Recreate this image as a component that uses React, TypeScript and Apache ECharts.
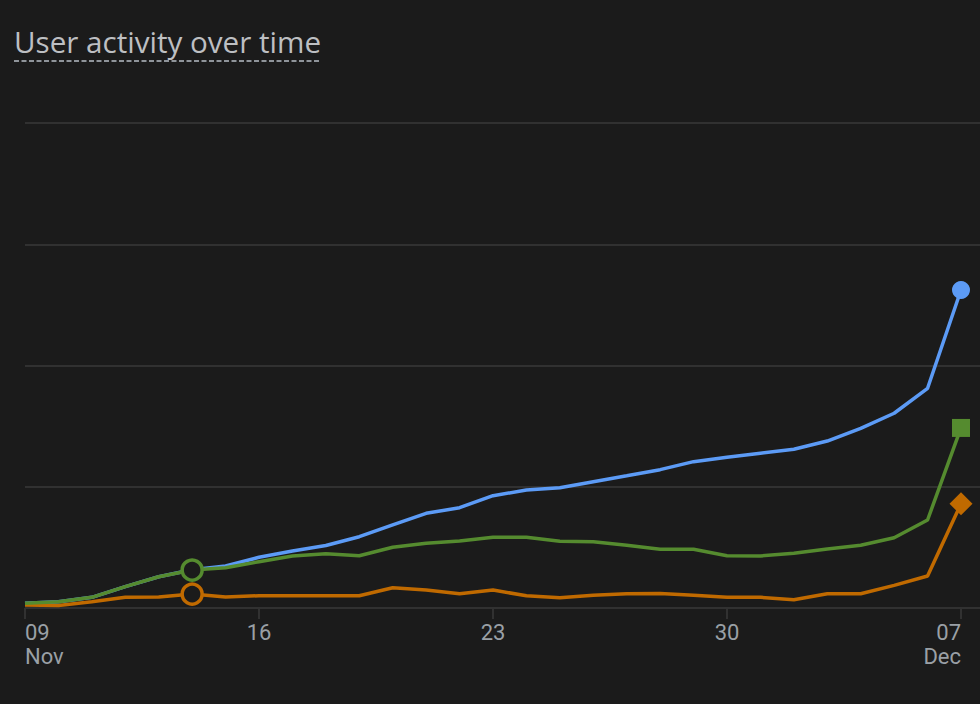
import React, { useEffect, useRef } from 'react';
import * as echarts from 'echarts';

// Days from 09 Nov to 07 Dec (index 0..28)
const days = [
  '09 Nov', '10 Nov', '11 Nov', '12 Nov', '13 Nov', '14 Nov', '15 Nov', '16 Nov', '17 Nov', '18 Nov',
  '19 Nov', '20 Nov', '21 Nov', '22 Nov', '23 Nov', '24 Nov', '25 Nov', '26 Nov', '27 Nov', '28 Nov',
  '29 Nov', '30 Nov', '01 Dec', '02 Dec', '03 Dec', '04 Dec', '05 Dec', '06 Dec', '07 Dec',
];

const tickLabels = ['09\nNov', '16', '23', '30', '07\nDec'];

const blueValues = [
  3.9, 5.2, 8.8, 17.6, 25.8, 31.5, 34.6, 41.8, 47, 51.5,
  58.8, 68.5, 78.1, 82.7, 92.6, 97.3, 99.2, 104.2, 109.1, 114.1,
  120.7, 124.3, 127.6, 130.9, 137.7, 148.2, 160.6, 181.2, 262.3,
];
const greenValues = [
  3.9, 5.2, 8.8, 17.6, 25.8, 31.3, 33.2, 38.2, 42.9, 44.8,
  43.1, 50.1, 53.4, 55.3, 58.3, 58.3, 55, 54.7, 51.7, 48.4,
  48.4, 43.1, 42.9, 45.1, 48.7, 51.7, 58, 72.6, 148.5,
];
const orangeValues = [
  2.5, 2.1, 5.2, 8.8, 9.1, 11.5, 9.1, 10.1, 10.1, 10.1,
  10.1, 16.7, 14.8, 11.8, 14.8, 10.1, 8.5, 10.5, 11.8, 12,
  10.5, 8.8, 8.8, 6.8, 11.8, 11.8, 18.7, 26.4, 86,
];

const BG = '#1b1b1b';
const GRID = '#313131';
const BLUE = '#5c9bf6';
const GREEN = '#558b2f';
const ORANGE = '#c06a00';

const HOLLOW_INDEX = 5;

function buildData(values: number[], color: string, endSymbol: string, endSize: number, hollow: boolean) {
  const last = values.length - 1;
  return values.map((v, i) => {
    if (i === last) {
      return { value: [i, v], symbol: endSymbol, symbolSize: endSize, itemStyle: { color, borderWidth: 0 } };
    }
    if (hollow && i === HOLLOW_INDEX) {
      return {
        value: [i, v],
        symbol: 'circle',
        symbolSize: 20,
        itemStyle: { color: BG, borderColor: color, borderWidth: 3.5 },
      };
    }
    return { value: [i, v], symbol: 'none', symbolSize: 0 };
  });
}

export default function App() {
  const ref = useRef<HTMLDivElement>(null);

  useEffect(() => {
    if (!ref.current) return;
    const chart = echarts.init(ref.current, null, { renderer: 'svg' });
    const lineSeries = (name: string, values: number[], color: string, endSymbol: string, endSize: number, hollow: boolean) => ({
      name,
      type: 'line',
      xAxisIndex: 1,
      yAxisIndex: 1,
      data: buildData(values, color, endSymbol, endSize, hollow),
      symbol: 'circle',
      showSymbol: true,
      showAllSymbol: true,
      clip: false,
      silent: true,
      lineStyle: { color, width: 3.5 },
      itemStyle: { color },
      emphasis: { disabled: true },
    });

    chart.setOption({
      animation: false,
      backgroundColor: BG,
      grid: [
        { left: 25, right: 0, top: 123, bottom: 96 },
        { left: 25, right: 19, top: 123, bottom: 96 },
      ],
      xAxis: [
        { gridIndex: 0, type: 'value', min: 0, max: 1, show: false },
        {
          gridIndex: 1,
          type: 'value',
          min: 0,
          max: days.length - 1,
          interval: 7,
          axisLine: { show: false },
          axisTick: { show: true, length: 11, lineStyle: { color: GRID, width: 2 } },
          splitLine: { show: false },
          axisLabel: {
            color: '#9aa0a6',
            fontFamily: 'Roboto',
            fontSize: 22,
            lineHeight: 24,
            margin: 12,
            alignMinLabel: 'left',
            alignMaxLabel: 'right',
            formatter: (v: number) => tickLabels[Math.round(v / 7)] ?? '',
          },
        },
      ],
      yAxis: [
        {
          gridIndex: 0,
          type: 'value',
          min: 0,
          max: 400,
          interval: 100,
          axisLine: { show: false },
          axisTick: { show: false },
          axisLabel: { show: false },
          splitLine: { show: true, lineStyle: { color: GRID, width: 2 } },
        },
        { gridIndex: 1, type: 'value', min: 0, max: 400, interval: 100, show: false, splitLine: { show: false } },
      ],
      graphic: [
        {
          type: 'text',
          x: 14,
          y: 41,
          style: {
            text: 'User activity over time',
            fill: '#bdbfc2',
            fontFamily: 'Open Sans',
            fontSize: 29.6,
            verticalAlign: 'middle',
            align: 'left',
          },
        },
        {
          type: 'line',
          shape: { x1: 14, y1: 61, x2: 320, y2: 61 },
          style: { stroke: '#8f949a', lineWidth: 2, lineDash: [5, 2.5] },
        },
      ],
      series: [
        lineSeries('Series A', blueValues, BLUE, 'circle', 18, false),
        lineSeries('Series C', orangeValues, ORANGE, 'diamond', 23, true),
        lineSeries('Series B', greenValues, GREEN, 'rect', 18, true),
      ],
    });
    return () => chart.dispose();
  }, []);

  return (
    <div
      ref={ref}
      style={{ position: 'fixed', left: 0, top: 0, width: 980, height: 704, background: BG }}
    />
  );
}
